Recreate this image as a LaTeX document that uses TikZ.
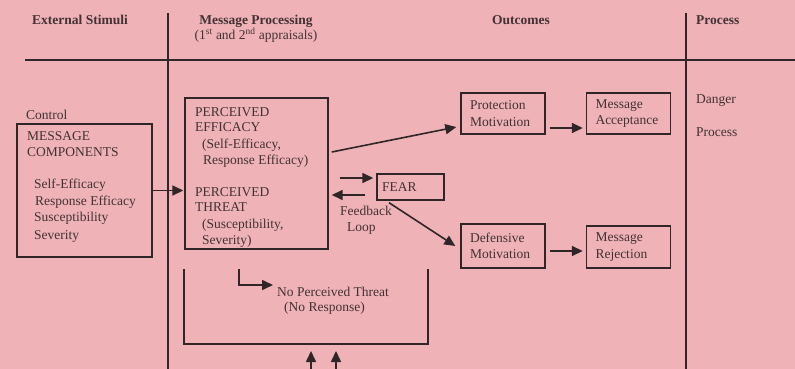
\documentclass[tikz,border=0pt]{standalone}
\usepackage{fontspec}
\setmainfont{Liberation Serif}
\usetikzlibrary{arrows.meta}
\definecolor{bg}{RGB}{239,178,183}
\definecolor{linec}{RGB}{48,38,40}
\definecolor{txt}{RGB}{66,50,52}
\begin{document}
\begin{tikzpicture}[x=1pt,y=-1pt,
  every node/.style={font=\fontsize{13.5}{16.5}\selectfont, text=txt},
  lbl/.style={anchor=base west, inner sep=0},
  hdr/.style={font=\fontsize{13.5}{16.5}\selectfont\bfseries, inner sep=0, anchor=base},
  box/.style={draw=linec, line width=1.4pt, inner sep=0},
  sbox/.style={box, minimum width=84pt, minimum height=41pt, align=left, text width=66pt},
  rule/.style={draw=linec, line width=2pt},
  arr/.style={draw=linec, line width=1.6pt, -{Triangle[length=11pt,width=10pt]}}]
\fill[bg] (0,0) rectangle (795,369);
\useasboundingbox (0,0) rectangle (795,369);
% grid lines
\coordinate (hl) at (25,60); \coordinate (hr) at (795,60);
\coordinate (v1t) at (168,13); \coordinate (v1b) at (168,369);
\coordinate (v2t) at (686,13); \coordinate (v2b) at (686,369);
\draw[rule] (hl) -- (hr);
\draw[rule] (v1t) -- (v1b);
\draw[rule] (v2t) -- (v2b);
% headers
\node[hdr, anchor=base west] (h1) at (32,24.5) {External Stimuli};
\node[hdr] (h2) at (256,24.5) {Message Processing};
\node[inner sep=0, anchor=base] (h2b) at (256,39.5) {(1\textsuperscript{st} and 2\textsuperscript{nd} appraisals)};
\node[hdr] (h3) at (521,24.5) {Outcomes};
\node[hdr, anchor=base west] (h4) at (696,24.5) {Process};
% left column
\node[lbl] (ctl) at (26,119.5) {Control};
\node[box, minimum width=135pt, minimum height=133pt] (mc) at (84.5,190.5) {};
\node[lbl] (mc1) at (27,140.5) {MESSAGE};
\node[lbl] (mc2) at (27,156.5) {COMPONENTS};
\node[lbl] (mc3) at (34,188.5) {Self-Efficacy};
\node[lbl] (mc4) at (35,205.5) {Response Efficacy};
\node[lbl] (mc5) at (34,221.5) {Susceptibility};
\node[lbl] (mc6) at (34,239.5) {Severity};
% perceived box
\node[box, minimum width=143pt, minimum height=151pt] (pb) at (256.5,173.5) {};
\node[lbl] (pb1) at (195,116.5) {PERCEIVED};
\node[lbl] (pb2) at (195,131.5) {EFFICACY};
\node[lbl] (pb3) at (202,148.5) {(Self-Efficacy,};
\node[lbl] (pb4) at (203,164.5) {Response Efficacy)};
\node[lbl] (pb5) at (195,196.5) {PERCEIVED};
\node[lbl] (pb6) at (195,211.5) {THREAT};
\node[lbl] (pb7) at (202,228.5) {(Susceptibility,};
\node[lbl] (pb8) at (202,244.5) {Severity)};
% fear
\node[box, minimum width=67pt, minimum height=26pt, text width=57pt, align=left] (fear) at (410.5,187) {FEAR};
\node[lbl] (fb1) at (340,215.5) {Feedback};
\node[lbl] (fb2) at (347,231.5) {Loop};
% outcomes
\node[sbox] (pm) at (503,113.5) {Protection\\Motivation};
\node[sbox] (ma) at (628.5,113.5) {Message\\Acceptance};
\node[sbox, minimum height=44pt] (dm) at (503,246) {Defensive\\Motivation};
\node[sbox, minimum height=42pt] (mr) at (628.5,247) {Message\\Rejection};
% process column
\node[lbl] (dg) at (696,103.5) {Danger};
\node[lbl] (pr) at (696,136.5) {Process};
% no perceived threat
\node[lbl] (npt) at (277,296.5) {No Perceived Threat};
\node[lbl] (nr) at (284,311.5) {(No Response)};
% connectors
\draw[arr] (mc.east) -- ([xshift=-1pt]mc.east -| pb.west);
\draw[arr] ([xshift=3pt,yshift=21.5pt]pb.east) -- ([xshift=-4pt,yshift=-13.5pt]pm.west);
\draw[arr] ([xshift=4pt,yshift=-14.5pt]pm.east) -- ([xshift=-3pt,yshift=-14.5pt]pm.east -| ma.west);
\draw[arr] ([xshift=11pt,yshift=9pt]pb.east |- fear.west) -- ([xshift=-3pt,yshift=9pt]fear.west);
\draw[arr] ([xshift=-11pt,yshift=-8pt]fear.west) -- ([xshift=3pt,yshift=-8pt]pb.east |- fear.west);
\draw[arr] ([xshift=-21.5pt,yshift=-2pt]fear.south) -- ([xshift=-5pt]dm.west);
\draw[arr] ([xshift=4pt,yshift=-5pt]dm.east) -- ([xshift=-3pt,yshift=-5pt]dm.east -| mr.west);
% bracket
\coordinate (bl) at (184,269); \coordinate (br) at (428,269);
\draw[draw=linec, line width=1.6pt] (bl) -- (184,344) -- (428,344) -- (br);
\coordinate (nps) at (239,269);
\draw[arr] (nps) |- ([xshift=-4pt]npt.west |- 0,285);
\coordinate (u1) at (311,372); \coordinate (u2) at (336,372);
\draw[arr] (u1) -- (311,351);
\draw[arr] (u2) -- (336,351);
\end{tikzpicture}
\end{document}
